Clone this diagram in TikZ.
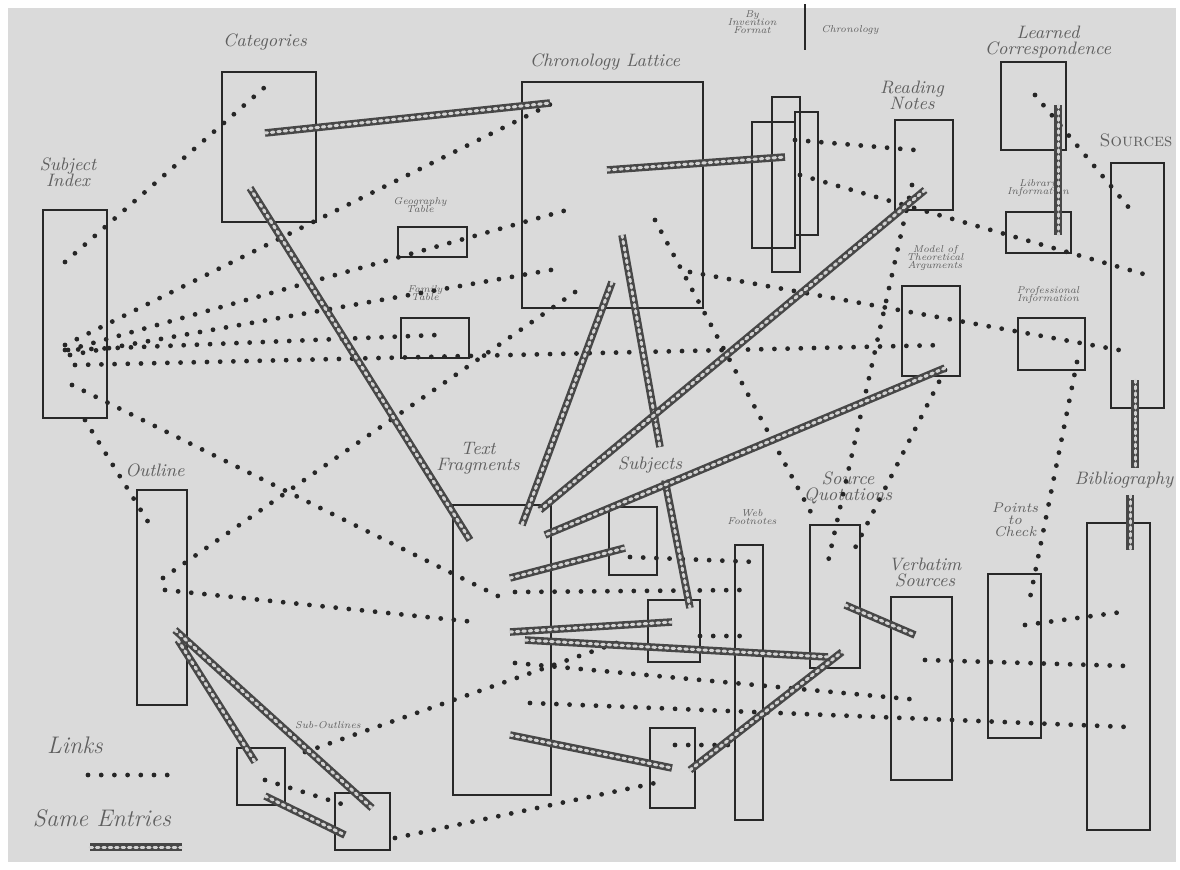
\documentclass[tikz,border=0pt]{standalone}
\usetikzlibrary{fit}
\definecolor{paper}{RGB}{218,218,218}
\definecolor{ink}{RGB}{40,40,40}
\definecolor{pencil}{RGB}{95,95,95}
\tikzset{
  box/.style={draw=ink, line width=0.9pt, inner sep=0pt},
  lbl/.style={text=pencil, font=\itshape\small, align=center, inner sep=1pt},
  slbl/.style={text=pencil, font=\itshape\tiny, align=center, inner sep=1pt},
  link/.style={draw=black!85, line width=2.4pt, line cap=round, dash pattern=on 0pt off 6.6pt},
  same/.style={draw=black!72, line width=3.8pt, postaction={draw=gray!35, line width=1.5pt, line cap=round, dash pattern=on 1.3pt off 1.9pt}}
}
\newcommand\bx[5]{\path (#2,#3) coordinate (#1-a) (#4,#5) coordinate (#1-b);
  \node[box, fit=(#1-a)(#1-b)] (#1) {};}
\begin{document}
\begin{tikzpicture}[x=0.5pt,y=-0.5pt]
\useasboundingbox (0,0) rectangle (1180,869);
\fill[white] (0,0) rectangle (1180,869);
\fill[paper] (8,8) rectangle (1176,862);
% boxes
\bx{cat}{222}{72}{316}{222}
\bx{chron}{522}{82}{703}{308}
\bx{subj}{43}{210}{107}{418}
\bx{geo}{398}{227}{467}{257}
\bx{fam}{401}{318}{469}{358}
\bx{cba}{752}{122}{795}{248}
\bx{cbb}{772}{97}{800}{272}
\bx{cbc}{795}{112}{818}{235}
\bx{read}{895}{120}{953}{210}
\bx{corr}{1001}{62}{1066}{150}
\bx{lib}{1006}{212}{1071}{253}
\bx{src}{1111}{163}{1164}{408}
\bx{model}{902}{286}{960}{376}
\bx{prof}{1018}{318}{1085}{370}
\bx{outl}{137}{490}{187}{705}
\bx{text}{453}{505}{551}{795}
\bx{subjs}{609}{507}{657}{575}
\bx{sba}{648}{600}{700}{662}
\bx{sbb}{650}{728}{695}{808}
\bx{web}{735}{545}{763}{820}
\bx{quot}{810}{525}{860}{668}
\bx{verb}{891}{597}{952}{780}
\bx{check}{988}{574}{1041}{738}
\bx{bib}{1087}{523}{1150}{830}
\bx{soa}{237}{748}{285}{805}
\bx{sob}{335}{793}{390}{850}
% labels
\node[lbl] (l-cat) at (265,42) {Categories};
\node[lbl] (l-chron) at (605,62) {Chronology Lattice};
\node[lbl] (l-subj) at (68,172) {Subject\\[-3pt]Index};
\node[slbl] (l-geo) at (420,205) {Geography\\[-2pt]Table};
\node[slbl] (l-fam) at (425,293) {Family\\[-2pt]Table};
\node[slbl] (l-by) at (752,22) {By\\[-2pt]Invention\\[-2pt]Format};
\coordinate (br-a) at (805,4);
\coordinate (br-b) at (805,50);
\draw[ink, line width=0.9pt] (br-a) -- (br-b);
\node[slbl] (l-chr2) at (850,30) {Chronology};
\node[lbl] (l-read) at (912,95) {Reading\\[-3pt]Notes};
\node[lbl] (l-corr) at (1048,42) {Learned\\[-3pt]Correspondence};
\node[lbl, font=\small\scshape] (l-src) at (1136,140) {Sources};
\node[slbl] (l-lib) at (1038,188) {Library\\[-2pt]Information};
\node[slbl] (l-model) at (935,258) {Model of\\[-2pt]Theoretical\\[-2pt]Arguments};
\node[slbl] (l-prof) at (1048,295) {Professional\\[-2pt]Information};
\node[lbl] (l-outl) at (155,470) {Outline};
\node[lbl] (l-text) at (478,458) {Text\\[-3pt]Fragments};
\node[lbl] (l-subjs) at (650,465) {Subjects};
\node[slbl] (l-web) at (752,517) {Web\\[-2pt]Footnotes};
\node[lbl] (l-quot) at (848,488) {Source\\[-3pt]Quotations};
\node[lbl] (l-verb) at (925,572) {Verbatim\\[-3pt]Sources};
\node[slbl, font=\itshape\scriptsize] (l-check) at (1015,520) {Points\\[-2pt]to\\[-2pt]Check};
\node[lbl] (l-bib) at (1124,480) {Bibliography};
\node[slbl] (l-so) at (328,725) {Sub-Outlines};
\node[lbl, font=\itshape\large] (l-links) at (75,745) {Links};
\node[lbl, font=\itshape\large] (l-same) at (102,818) {Same Entries};
% legend
\coordinate (lg1a) at (88,775); \coordinate (lg1b) at (175,775);
\coordinate (lg2a) at (90,847); \coordinate (lg2b) at (182,847);
\draw[link] (lg1a) -- (lg1b);
\draw[same] (lg2a) -- (lg2b);
% links (dotted)
\draw[link] (65,262) -- (265,87);
\draw[link] (65,345) -- (553,103);
\draw[link] (68,350) -- (567,210);
\draw[link] (70,355) -- (562,268);
\draw[link] (65,350) -- (437,335);
\draw[link] (75,365) -- (945,345);
\draw[link] (72,385) -- (500,597);
\draw[link] (85,420) -- (150,525);
\draw[link] (163,578) -- (578,290);
\draw[link] (165,590) -- (475,622);
\draw[link] (655,220) -- (815,520);
\draw[link] (690,272) -- (1130,352);
\draw[link] (795,140) -- (915,150);
\draw[link] (800,175) -- (1147,275);
\draw[link] (912,185) -- (828,562);
\draw[link] (945,370) -- (855,548);
\draw[link] (1035,95) -- (1135,215);
\draw[link] (1077,362) -- (1030,598);
\draw[link] (305,752) -- (625,640);
\draw[link] (395,838) -- (660,782);
\draw[link] (265,780) -- (345,805);
\draw[link] (630,557) -- (757,562);
\draw[link] (515,592) -- (745,590);
\draw[link] (700,636) -- (752,636);
\draw[link] (675,745) -- (740,745);
\draw[link] (515,663) -- (920,700);
\draw[link] (530,703) -- (1128,727);
\draw[link] (925,660) -- (1128,666);
\draw[link] (1025,625) -- (1122,612);
% same entries (chains)
\draw[same] (265,133) -- (550,103);
\draw[same] (250,188) -- (470,540);
\draw[same] (607,170) -- (785,157);
\draw[same] (622,235) -- (660,447);
\draw[same] (665,480) -- (690,608);
\draw[same] (612,282) -- (522,525);
\draw[same] (925,190) -- (540,510);
\draw[same] (945,368) -- (545,535);
\draw[same] (1058,105) -- (1058,235);
\draw[same] (1135,380) -- (1135,468);
\draw[same] (1130,495) -- (1130,550);
\draw[same] (510,578) -- (625,548);
\draw[same] (510,632) -- (672,622);
\draw[same] (525,640) -- (828,657);
\draw[same] (510,735) -- (672,768);
\draw[same] (690,770) -- (842,652);
\draw[same] (845,605) -- (915,635);
\draw[same] (175,630) -- (372,808);
\draw[same] (178,640) -- (255,762);
\draw[same] (265,796) -- (345,835);
\end{tikzpicture}
\end{document}
